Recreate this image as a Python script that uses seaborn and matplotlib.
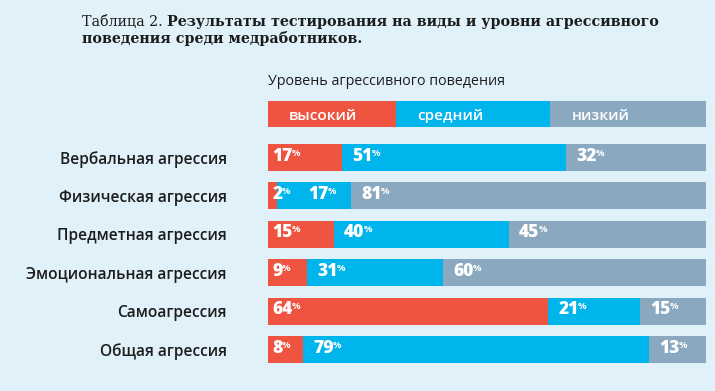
import matplotlib
matplotlib.use("Agg")
import matplotlib.pyplot as plt
import seaborn as sns
import pandas as pd

# data
categories = ["Вербальная агрессия", "Физическая агрессия", "Предметная агрессия",
              "Эмоциональная агрессия", "Самоагрессия", "Общая агрессия"]
high = [17, 2, 15, 9, 64, 8]
medium = [51, 17, 40, 31, 21, 79]
low = [32, 81, 45, 60, 15, 13]
levels = ["высокий", "средний", "низкий"]

title_prefix = "Таблица 2."
title_line1 = "Результаты тестирования на виды и уровни агрессивного"
title_line2 = "поведения среди медработников."
subtitle = "Уровень агрессивного поведения"

RED = "#ef5440"
BLUE = "#00b4ec"
GREY = "#8aa9c0"
BG = "#e0f1fa"
TXT = "#1c1c1c"
SANS = "Open Sans"

sns.set_theme(style="white")
plt.rcParams["font.family"] = [SANS, "DejaVu Sans"]

df = pd.DataFrame({"category": categories, "high": high, "medium": medium, "low": low})
df["to_medium"] = df["high"] + df["medium"]
df["to_low"] = df["to_medium"] + df["low"]

fig = plt.figure(figsize=(7.15, 3.91), dpi=100, facecolor=BG)
ax = fig.add_axes([0.3748, 0.0570, 0.6126, 0.5893])
ax.set_facecolor("none")

# stacked bars drawn as overlapping cumulative totals
for col, color in [("to_low", GREY), ("to_medium", BLUE), ("high", RED)]:
    sns.barplot(data=df, x=col, y="category", orient="h", color=color, saturation=1,
                width=0.7, linewidth=0, errorbar=None, ax=ax)

ax.set_xlim(0, 100)
ax.set_ylim(len(categories) - 0.5, -0.5)
ax.set_xlabel("")
ax.set_ylabel("")
ax.set_xticks([])
sns.despine(ax=ax, left=True, bottom=True)
ax.tick_params(axis="y", length=0, pad=29.7)
for lab in ax.get_yticklabels():
    lab.set_fontsize(11.2)
    lab.set_fontweight("semibold")
    lab.set_color(TXT)

# percentage labels with small raised % sign
for i in range(len(categories)):
    vals = [high[i], medium[i], low[i]]
    starts = [0, high[i], high[i] + medium[i]]
    prev = None
    for j in range(3):
        x = starts[j] + (1.0 if j == 0 else 2.3)
        if prev is not None:
            x = max(x, prev + 8.2)
        prev = x
        num = ax.annotate(str(vals[j]), xy=(x, i), xytext=(0, -2.3), textcoords="offset points",
                          ha="left", va="baseline", fontsize=12.5, fontweight=800, color="white")
        ax.annotate("%", xy=(1, 1), xycoords=num, xytext=(-0.6, -0.6), textcoords="offset points",
                    ha="left", va="top", fontsize=6.8, fontweight="bold", color="white")

# legend strip
lax = fig.add_axes([0.3748, 0.6744, 0.6126, 0.068])
seg = [0.292, 0.353, 0.355]
left = 0
for name, w, color in zip(levels, seg, [RED, BLUE, GREY]):
    lax.barh(0, w, left=left, height=1, color=color, linewidth=0)
    lax.annotate(name, xy=(left, 0), xytext=(15.1, -4.3), textcoords="offset points",
                 ha="left", va="baseline", fontsize=11.1, fontweight="semibold", color="white")
    left += w
lax.set_xlim(0, 1)
lax.set_ylim(-0.5, 0.5)
lax.axis("off")

fig.text(0.3752, 0.7826, subtitle, fontsize=10.3, color=TXT, ha="left", va="baseline")

# title: regular prefix followed by bold text
t1 = fig.text(0.1143, 0.9343, title_prefix, fontfamily="DejaVu Serif", fontsize=10.3,
              color=TXT, ha="left", va="baseline")
ax.annotate(" " + title_line1, xy=(1, 0), xycoords=t1, ha="left", va="bottom",
            fontfamily="DejaVu Serif", fontsize=10.3, fontweight="bold", color=TXT,
            annotation_clip=False)
fig.text(0.1143, 0.8908, title_line2, fontfamily="DejaVu Serif", fontsize=10.3,
         fontweight="bold", color=TXT, ha="left", va="baseline")

fig.savefig("out.png", dpi=100, facecolor=BG)
